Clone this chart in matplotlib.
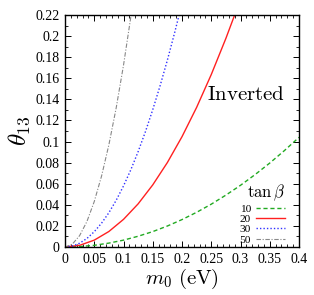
import matplotlib
matplotlib.use("Agg")
import matplotlib.pyplot as plt
from matplotlib.ticker import MultipleLocator

plt.rcParams['font.family'] = ['Liberation Serif', 'DejaVu Serif']
plt.rcParams['mathtext.fontset'] = 'cm'

# tan beta = 10 (green dashed)
m10 = [0, 0.025, 0.05, 0.075, 0.1, 0.125, 0.15, 0.175, 0.2, 0.225, 0.25, 0.275, 0.3, 0.325, 0.35, 0.375, 0.4]
t10 = [0, 0.0004, 0.0016, 0.0037, 0.0065, 0.0102, 0.0146, 0.0199, 0.026, 0.0329, 0.0406, 0.0492, 0.0585, 0.0687, 0.0796, 0.0914, 0.104]
# tan beta = 20 (red solid)
m20 = [0, 0.025, 0.05, 0.075, 0.1, 0.125, 0.15, 0.175, 0.2, 0.225, 0.25, 0.275, 0.29]
t20 = [0, 0.0016, 0.0065, 0.0147, 0.0262, 0.0409, 0.0589, 0.0801, 0.1046, 0.1324, 0.1635, 0.1978, 0.22]
# tan beta = 30 (blue dotted)
m30 = [0, 0.0125, 0.025, 0.0375, 0.05, 0.0625, 0.075, 0.0875, 0.1, 0.1125, 0.125, 0.1375, 0.15, 0.1625, 0.175, 0.1875, 0.195]
t30 = [0, 0.0009, 0.0036, 0.0081, 0.0145, 0.0226, 0.0325, 0.0443, 0.0579, 0.0732, 0.0904, 0.1094, 0.1302, 0.1528, 0.1772, 0.2034, 0.22]
# tan beta = 50 (gray dash-dot)
m50 = [0, 0.0125, 0.025, 0.0375, 0.05, 0.0625, 0.075, 0.0875, 0.1, 0.113]
t50 = [0, 0.0027, 0.0108, 0.0242, 0.0431, 0.0673, 0.0969, 0.1319, 0.1723, 0.22]

labels = ['10', '20', '30', '50']

fig = plt.figure(figsize=(3.14, 2.95), dpi=100)
ax = fig.add_axes([65/314, 48/295, 234/314, 232/295])

ax.plot(m10, t10, color='#22aa22', ls=(0, (3, 2)), lw=1.0, label=labels[0])
ax.plot(m20, t20, color='#ff2020', ls='-', lw=1.0, label=labels[1])
ax.plot(m30, t30, color='#3030ff', ls=(0, (1, 1.5)), lw=1.0, label=labels[2])
ax.plot(m50, t50, color='#888888', ls=(0, (4, 1.5, 1, 1.5)), lw=0.8, label=labels[3])

ax.set_xlim(0, 0.4)
ax.set_ylim(0, 0.22)
ax.xaxis.set_major_locator(MultipleLocator(0.05))
ax.xaxis.set_minor_locator(MultipleLocator(0.01))
ax.yaxis.set_major_locator(MultipleLocator(0.02))
ax.yaxis.set_minor_locator(MultipleLocator(0.01))
ax.xaxis.set_major_formatter(plt.FuncFormatter(lambda v, p: ('%g' % round(v, 3))))
ax.yaxis.set_major_formatter(plt.FuncFormatter(lambda v, p: ('%g' % round(v, 3))))
ax.tick_params(which='both', direction='in', top=True, right=True, labelsize=10, pad=4)
ax.tick_params(which='major', length=4, width=0.7)
ax.tick_params(which='minor', length=2, width=0.6)
for s in ax.spines.values():
    s.set_linewidth(1.0)

ax.set_xlabel(r'$m_0\ \mathrm{(eV)}$', fontsize=15, labelpad=1)
ax.set_ylabel(r'$\theta_{13}$', fontsize=18, labelpad=2)

ax.text(0.309, 0.144, r'$\mathrm{Inverted}$', fontsize=15, ha='center', va='center')

leg = ax.legend(loc='lower right', bbox_to_anchor=(0.94, 0.01),
                title=r'$\tan\beta$', markerfirst=False,
                frameon=False, fontsize=8.2, title_fontsize=12, handlelength=2.5,
                handletextpad=0.5, labelspacing=0.03, borderaxespad=0.0,
                borderpad=0.0)
leg._legend_box.align = 'right'

fig.savefig('out.png', dpi=100)
